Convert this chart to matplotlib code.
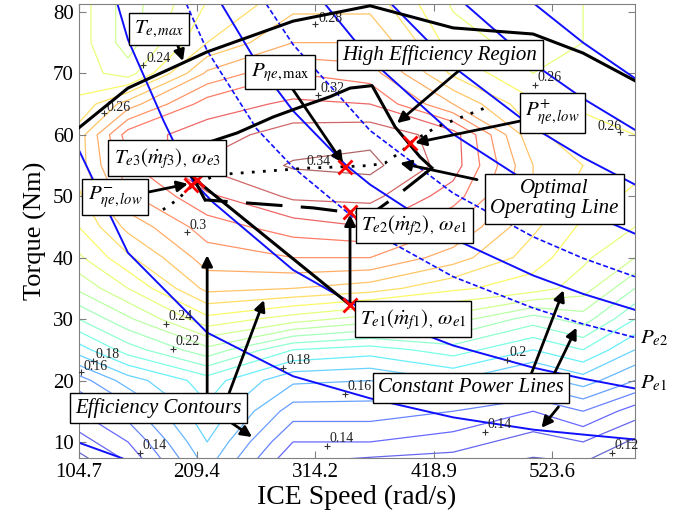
import numpy as np
import matplotlib
matplotlib.use('Agg')
import matplotlib.pyplot as plt

plt.rcParams['font.family'] = ['Liberation Serif', 'DejaVu Serif']
plt.rcParams['mathtext.fontset'] = 'stix'

# engine speed (rad/s) and torque (Nm) grid of the efficiency map
speed = [104.7, 148.3, 218.4, 294.4, 362.5, 436.0, 506.8, 551.0, 596.9]
torque = [5, 10, 15, 20, 25, 30, 35, 40, 45, 50, 55, 60, 65, 70, 75, 82]

# efficiency along torque, one list per speed
eff_1047 = [.110, .125, .140, .155, .185, .210, .232, .248, .260, .268, .275, .275, .262, .255, .255, .255]
eff_1483 = [.125, .140, .155, .175, .205, .228, .250, .268, .283, .298, .308, .315, .285, .245, .235, .235]
eff_2184 = [.170, .180, .188, .195, .227, .257, .283, .295, .305, .318, .332, .325, .315, .292, .270, .260]
eff_2944 = [.125, .140, .155, .172, .200, .245, .280, .300, .315, .332, .341, .335, .322, .310, .290, .275]
eff_3625 = [.120, .140, .155, .170, .195, .235, .275, .300, .320, .333, .343, .337, .320, .305, .290, .275]
eff_4360 = [.120, .135, .150, .180, .205, .235, .262, .285, .300, .315, .325, .325, .290, .268, .255, .248]
eff_5068 = [.115, .125, .140, .165, .190, .215, .255, .265, .272, .280, .280, .272, .262, .250, .245, .240]
eff_5510 = [.115, .130, .150, .175, .200, .225, .245, .252, .258, .265, .270, .265, .258, .252, .250, .250]
eff_5969 = [.110, .118, .135, .160, .180, .200, .220, .240, .250, .258, .263, .260, .255, .255, .255, .255]

eff_levels = [0.11, 0.12, 0.13, 0.14, 0.15, 0.16, 0.17, 0.18, 0.19, 0.20, 0.21, 0.22,
              0.23, 0.24, 0.25, 0.26, 0.27, 0.28, 0.29, 0.30, 0.31, 0.32, 0.33, 0.34]

# contour labels: marker point, text anchor, label
lab_x = [313.8, 161.6, 127.1, 316.5, 338.6, 200.5, 508.5, 583.8, 182.0, 188.2,
         117.4, 106.7, 159.0, 285.5, 340.3, 324.4, 483.7, 464.3, 576.8]
lab_y = [78.05, 71.4, 63.6, 66.5, 54.9, 44.2, 68.1, 60.5, 29.2, 25.1,
         23.2, 21.4, 8.2, 22.05, 17.8, 9.35, 23.35, 11.6, 8.2]
lab_tx = [316.5, 164.3, 129.7, 318.3, 306.0, 203.2, 510.3, 563.4, 184.6, 190.8,
          120.0, 109.4, 161.6, 288.2, 343.0, 326.2, 485.5, 466.1, 578.6]
lab_ty = [78.9, 72.35, 64.5, 67.5, 55.6, 45.2, 69.3, 61.4, 30.35, 26.3,
          24.3, 22.2, 9.35, 23.2, 19.0, 10.5, 24.5, 12.8, 9.35]
lab_txt = ['0.28', '0.24', '0.26', '0.32', '0.34', '0.3', '0.26', '0.26', '0.24', '0.22',
           '0.18', '0.16', '0.14', '0.18', '0.16', '0.14', '0.2', '0.14', '0.12']

# maximum torque curve
tmax_speed = [104.7, 148.3, 218.4, 294.4, 362.5, 436.0, 506.8, 551.0, 596.9]
tmax_torque = [61.1, 67.6, 73.5, 78.5, 81.0, 77.4, 76.4, 73.3, 68.8]

# constant power lines
pw1_speed = [104.7, 148.3]
pw1_torque = [9.9, 7.0]
pw2_speed = [104.7, 148.3, 218.4, 294.4, 362.5, 436.0, 506.8, 551.0, 596.9]
pw2_torque = [57.6, 40.8, 27.8, 20.7, 17.1, 14.0, 12.0, 11.2, 10.4]
pe1_speed = [139.0, 148.3, 180.0, 205.8, 223.6, 294.4, 362.5, 436.0, 506.8, 551.0, 596.9]
pe1_torque = [81.3, 75.5, 62.2, 52.4, 49.0, 38.0, 30.9, 25.7, 22.1, 20.3, 18.7]
pe2_speed = [200.0, 218.4, 262.0, 294.4, 342.2, 362.5, 436.0, 506.8, 551.0, 596.9]
pe2_torque = [81.3, 73.7, 61.0, 54.7, 47.4, 44.4, 36.9, 31.8, 29.2, 27.0]
pw5_speed = [231.0, 262.0, 294.4, 340.4, 362.5, 436.0, 506.8, 551.0, 596.9]
pw5_torque = [81.3, 71.8, 63.9, 55.2, 51.9, 43.1, 37.1, 34.1, 31.5]
pw6_speed = [270.6, 294.4, 362.5, 436.0, 506.8, 551.0, 596.9]
pw6_torque = [81.3, 74.7, 60.7, 50.5, 43.4, 39.9, 36.9]
pw7_speed = [322.6, 362.5, 436.0, 506.8, 551.0, 596.9]
pw7_torque = [81.3, 72.3, 60.1, 51.7, 47.6, 43.9]
pw8_speed = [381.3, 436.0, 506.8, 551.0, 596.9]
pw8_torque = [81.3, 71.1, 61.2, 56.3, 51.9]
pw9_speed = [446.5, 506.8, 551.0, 596.9]
pw9_torque = [81.3, 71.6, 65.9, 60.8]
pw10_speed = [508.0, 551.0, 596.9]
pw10_torque = [81.3, 75.0, 69.2]

# optimal operating line
opt_speed = [179.3, 191.7, 205.1, 227.1, 309.4, 340.4, 362.5, 375.8, 391.7, 397.9, 421.8, 466.1]
opt_torque = [47.8, 49.4, 51.7, 53.5, 54.6, 54.8, 55.0, 55.4, 57.5, 58.7, 61.3, 64.5]

# high efficiency region boundary
her_speed = [216.5, 203.2, 218.4, 244.9, 276.8, 300.6, 327.1, 344.8, 364.3, 384.6, 406.7, 417.3]
her_torque = [49.4, 54.0, 58.7, 60.3, 62.9, 64.5, 66.2, 67.6, 68.0, 61.3, 56.4, 54.6]
her_low_speed = [417.3, 389.1, 365.2, 342.2, 312.1, 253.7, 216.5]
her_low_torque = [54.6, 50.5, 47.3, 47.4, 48.1, 48.9, 49.4]

# operating points
pt_speed = [344.8, 344.8, 209.4, 204.5, 340.4, 397.9]
pt_torque = [32.3, 47.4, 52.6, 51.8, 54.8, 58.7]

fig = plt.figure(figsize=(6.84, 5.18), dpi=100)
ax = fig.add_axes([0.115, 0.116, 0.8133, 0.8764])

eff_map = np.column_stack([eff_1047, eff_1483, eff_2184, eff_2944, eff_3625,
                           eff_4360, eff_5068, eff_5510, eff_5969])
ax.contour(speed, torque, eff_map, levels=eff_levels, cmap='jet', vmin=0.11, vmax=0.34,
           linewidths=0.9, alpha=0.6, zorder=1)

for x, y, tx, ty, s in zip(lab_x, lab_y, lab_tx, lab_ty, lab_txt):
    ax.plot(x, y, marker='+', color='#333333', ms=4, mew=0.8, zorder=3)
    ax.text(tx, ty, s, fontsize=10, ha='left', va='center', color='#222222', zorder=3)

# constant power lines
solid = dict(color='#1010ff', lw=1.4, zorder=2)
dashed = dict(color='#1010ff', lw=1.2, ls=(0, (3, 1.5)), zorder=2)
ax.plot(pw1_speed, pw1_torque, **solid)
ax.plot(pw2_speed, pw2_torque, **solid)
ax.plot(pe1_speed, pe1_torque, **solid)
ax.plot(pe2_speed, pe2_torque, **dashed)
ax.plot(pw5_speed, pw5_torque, **solid)
ax.plot(pw6_speed, pw6_torque, **dashed)
ax.plot(pw7_speed, pw7_torque, **solid)
ax.plot(pw8_speed, pw8_torque, **solid)
ax.plot(pw9_speed, pw9_torque, **solid)
ax.plot(pw10_speed, pw10_torque, **solid)

ax.plot(tmax_speed, tmax_torque, color='black', lw=2.2, zorder=3)
ax.plot(her_speed, her_torque, color='black', lw=2.2, zorder=3)
ax.plot(her_low_speed, her_low_torque, color='black', lw=2.2, ls=(0, (12, 6)), zorder=3)
ax.plot(opt_speed, opt_torque, color='black', lw=2, ls=(0, (1, 3)), zorder=3)
ax.plot([197.2, pt_speed[0]], [54.3, pt_torque[0]], color='black', lw=2.2, zorder=3)

ax.plot(pt_speed, pt_torque, ls='none', marker='x', color='red', ms=10, mew=2, zorder=6)

arrow = dict(arrowstyle='-|>', color='black', lw=2, mutation_scale=16, shrinkA=0, shrinkB=0)
arrows = [((190.1, 75.8), (197.0, 72.0)),
          ((293.4, 67.6), (338.6, 55.4)),
          ((444.1, 70.9), (386.4, 61.9)),
          ((499.7, 62.4), (402.3, 58.7)),
          ((161.7, 50.5), (201.4, 52.0)),
          ((457.2, 52.7), (389.1, 55.4)),
          ((344.8, 32.3), (344.8, 47.0)),
          ((505.4, 21.2), (533.7, 34.7)),
          ((525.7, 21.2), (545.2, 28.6)),
          ((529.2, 15.7), (514.2, 12.3)),
          ((218.4, 18.0), (218.4, 40.4)),
          ((237.9, 18.0), (268.7, 33.1)),
          ((236.1, 13.6), (258.1, 10.8))]
for tail, head in arrows:
    ax.annotate('', xy=head, xytext=tail, arrowprops=arrow, zorder=5)

box = dict(boxstyle='square,pad=0.25', fc='white', ec='black', lw=1)
notes = [(175.9, 77.2, r'$T_{e,max}$'),
         (282.9, 70.2, r'$P_{\eta e,\mathrm{max}}$'),
         (424.5, 73.0, 'High Efficiency Region'),
         (523.6, 63.6, r'$P^{+}_{\eta e,low}$'),
         (182.9, 56.2, r'$T_{e3}(\dot{m}_{f3})_{,}\ \omega_{e3}$'),
         (136.9, 49.9, r'$P^{-}_{\eta e,low}$'),
         (525.5, 49.6, 'Optimal\nOperating Line'),
         (401.6, 45.2, r'$T_{e2}(\dot{m}_{f2})_{,}\ \omega_{e1}$'),
         (400.5, 30.0, r'$T_{e1}(\dot{m}_{f1})_{,}\ \omega_{e1}$'),
         (451.9, 18.8, 'Constant Power Lines'),
         (175.0, 15.5, 'Efficiency Contours')]
for x, y, s in notes:
    ax.text(x, y, s, fontsize=15, style='italic', ha='center', va='center',
            bbox=box, zorder=7, linespacing=1.1)

ax.text(601.5, 26.9, r'$P_{e2}$', fontsize=15, ha='left', va='center', clip_on=False)
ax.text(601.5, 19.6, r'$P_{e1}$', fontsize=15, ha='left', va='center', clip_on=False)

ax.set_xlim(104.7, 596.9)
ax.set_ylim(7.4, 81.3)
ax.set_xticks([104.7, 209.4, 314.2, 418.9, 523.6])
ax.set_xticklabels(['104.7', '209.4', '314.2', '418.9', '523.6'])
ax.set_yticks([10, 20, 30, 40, 50, 60, 70, 80])
ax.tick_params(direction='in', top=True, right=True, length=5, color='#808080',
               labelsize=15)
for sp in ax.spines.values():
    sp.set_color('#808080')
ax.set_xlabel('ICE Speed (rad/s)', fontsize=20, labelpad=2)
ax.set_ylabel('Torque (Nm)', fontsize=19, labelpad=4)

fig.savefig('out.png', dpi=100)
